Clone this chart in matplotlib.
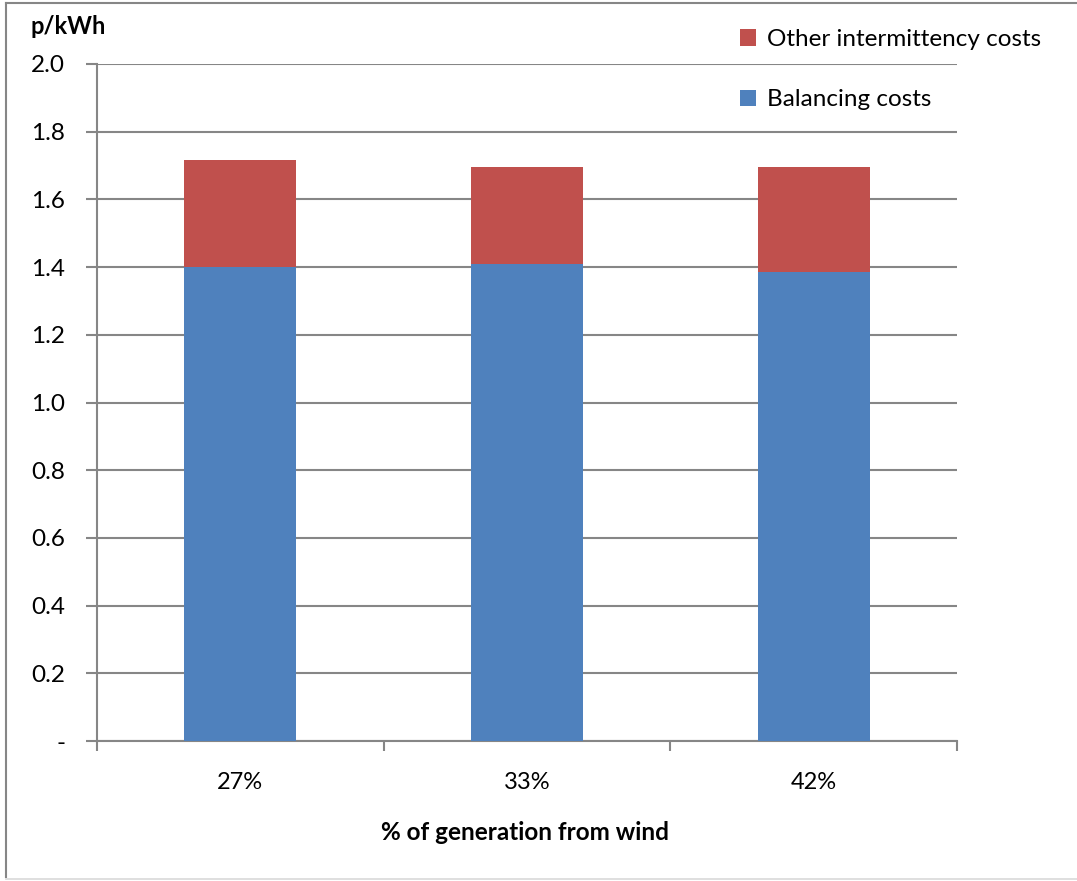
import matplotlib
matplotlib.use("Agg")
import matplotlib.pyplot as plt
from matplotlib.lines import Line2D
from matplotlib.patches import Patch
import numpy as np

categories = ["27%", "33%", "42%"]
balancing = [1.40, 1.41, 1.385]
other = [0.315, 0.287, 0.31]
yticks = [0.0, 0.2, 0.4, 0.6, 0.8, 1.0, 1.2, 1.4, 1.6, 1.8, 2.0]
ytick_labels = ["-", "0.2", "0.4", "0.6", "0.8", "1.0", "1.2", "1.4", "1.6", "1.8", "2.0"]

blue = "#4F81BD"
red = "#C0504D"
grid = "#868686"

plt.rcParams['font.family'] = ['Lato', 'DejaVu Sans']

fig = plt.figure(figsize=(10.77, 8.81), dpi=100)
ax = fig.add_axes([97/1077, 1-741/881, (957-97)/1077, (741-64)/881])

x = np.arange(len(categories))
w = 0.39
ax.bar(x, balancing, width=w, color=blue, zorder=3, label="Balancing costs")
ax.bar(x, other, width=w, bottom=balancing, color=red, zorder=3, label="Other intermittency costs")

ax.set_xlim(-0.5, len(categories) - 0.5)
ax.set_ylim(0, 2.0)
ax.set_yticks(yticks)
ax.set_yticklabels(ytick_labels, fontsize=17.5)
ax.yaxis.grid(True, color=grid, linewidth=1.5, zorder=0)
ax.tick_params(axis='y', length=8, width=1.5, color=grid, pad=15, direction='out')

ax.set_xticks(x)
ax.set_xticklabels(categories, fontsize=17)
ax.tick_params(axis='x', length=0, pad=22)
ax.set_xticks(np.arange(-0.5, len(categories)), minor=True)
ax.tick_params(axis='x', which='minor', length=7, width=1.5, color=grid, direction='out')

for s in ['top', 'right']:
    ax.spines[s].set_visible(False)
for s in ['left', 'bottom']:
    ax.spines[s].set_color(grid)
    ax.spines[s].set_linewidth(1.5)

fig.text(525/1077, 1-833/881, "% of generation from wind", ha='center', va='center',
         fontsize=17.5, fontweight='bold')
fig.text(30/1077, 1-27/881, "p/kWh", ha='left', va='center', fontsize=17, fontweight='bold')

handles = [Patch(facecolor=red, edgecolor='none'), Patch(facecolor=blue, edgecolor='none')]
labels = ["Other intermittency costs", "Balancing costs"]
leg = fig.legend(handles, labels, loc='upper left', bbox_to_anchor=(740/1077, 1-29/881),
                 frameon=False, fontsize=17.5, handlelength=0.65, handleheight=0.65,
                 handletextpad=0.45, labelspacing=1.62, borderaxespad=0, borderpad=0)

# outer chart frame
fig.add_artist(Line2D([6/1077, 6/1077], [1-877/881, 1-3/881], color=grid, linewidth=1.5,
                      transform=fig.transFigure))
fig.add_artist(Line2D([6/1077, 1.0], [1-3/881, 1-3/881], color=grid, linewidth=1.5,
                      transform=fig.transFigure))
fig.add_artist(Line2D([6/1077, 1.0], [1-879/881, 1-879/881], color="#d9d9d9", linewidth=1.2,
                      transform=fig.transFigure))

fig.savefig("out.png", dpi=100)
